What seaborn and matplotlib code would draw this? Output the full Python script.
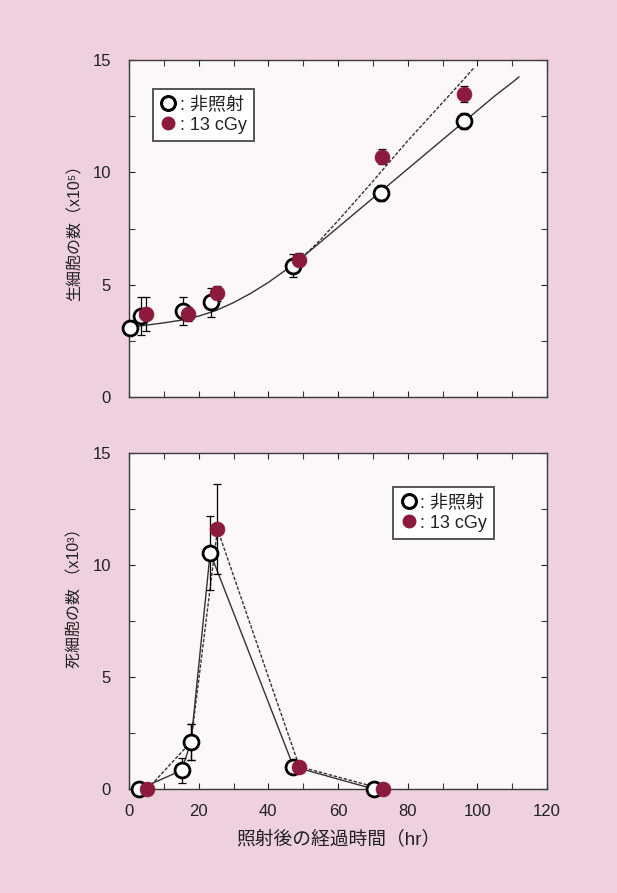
import matplotlib
matplotlib.use("Agg")
import matplotlib.pyplot as plt
from matplotlib.lines import Line2D
from matplotlib.ticker import MultipleLocator
import seaborn as sns

# ---- live cells (x10^5) ----
live_ctrl_hr = [0.3, 3.5, 15.6, 23.4, 47.2, 72.3, 96.3]
live_ctrl = [3.05, 3.6, 3.84, 4.21, 5.85, 9.08, 12.28]
live_ctrl_err = [0.0, 0.85, 0.62, 0.65, 0.5, 0.35, 0.35]

live_irr_hr = [5.0, 17.0, 25.2, 48.9, 72.5, 96.3]
live_irr = [3.7, 3.69, 4.61, 6.12, 10.7, 13.5]
live_irr_err = [0.75, 0.3, 0.35, 0.3, 0.35, 0.35]

# growth curves
fit_ctrl_hr = [1, 5, 10, 15, 20, 25, 30, 35, 40, 45, 50, 55, 60, 65, 70,
               75, 80, 85, 90, 95, 100, 105, 110, 112]
fit_ctrl = [3.12, 3.2, 3.3, 3.42, 3.6, 3.85, 4.2, 4.62, 5.1, 5.65, 6.25,
            6.9, 7.55, 8.2, 8.85, 9.5, 10.15, 10.8, 11.45, 12.1, 12.75,
            13.4, 14.0, 14.25]
fit_irr_hr = [45, 50, 55, 60, 65, 70, 75, 80, 85, 90, 95, 99]
fit_irr = [5.65, 6.25, 7.0, 7.85, 8.72, 9.6, 10.5, 11.4, 12.25, 13.1,
           13.95, 14.65]

# ---- dead cells (x10^3) ----
dead_ctrl_hr = [3.0, 15.1, 17.8, 23.3, 47.2, 70.2]
dead_ctrl = [0.0, 0.83, 2.1, 10.55, 1.0, 0.0]
dead_ctrl_err = [0.0, 0.55, 0.8, 1.65, 0.1, 0.0]

dead_irr_hr = [5.3, 17.8, 25.4, 48.9, 72.8]
dead_irr = [0.0, 2.1, 11.6, 1.0, 0.0]
dead_irr_err = [0.0, 0.8, 2.0, 0.1, 0.0]

labels = [": 非照射", ": 13 cGy"]
x_ticks = [0, 20, 40, 60, 80, 100, 120]
y_ticks = [0, 5, 10, 15]

PINK = "#eed0df"
PANEL = "#fcf8fa"
RED = "#8c1a3d"
LINE = "#333333"
EDGE = "#3a3a3a"

sns.set_theme(style="ticks")
plt.rcParams["font.family"] = ["Liberation Sans", "Noto Sans CJK JP", "DejaVu Sans"]

fig = plt.figure(figsize=(6.17, 8.93), dpi=100, facecolor=PINK)
W, H = 617, 893
ax1 = fig.add_axes([129 / W, 1 - 397 / H, 418 / W, 337 / H])
ax2 = fig.add_axes([129 / W, 1 - 789 / H, 418 / W, 336 / H])

MS = 115  # marker area (pt^2)


def style_axes(ax, show_x):
    ax.set_facecolor(PANEL)
    ax.set_xlim(0, 120)
    ax.set_ylim(0, 15)
    ax.set_xticks(x_ticks)
    ax.set_yticks(y_ticks)
    ax.xaxis.set_minor_locator(MultipleLocator(10))
    ax.yaxis.set_minor_locator(MultipleLocator(2.5))
    ax.tick_params(which="both", direction="in", top=True, right=True,
                   length=4, width=0.8, color=EDGE)
    ax.tick_params(axis="y", labelsize=12, pad=13, colors="#222222")
    ax.tick_params(axis="x", labelsize=12, pad=11, colors="#222222",
                   labelbottom=show_x)
    for s in ax.spines.values():
        s.set_color(EDGE)
        s.set_linewidth(1.0)
        s.set_visible(True)


def draw_legend(ax, anchor):
    handles = [
        Line2D([], [], ls="none", marker="o", ms=10, mfc="white",
               mec="black", mew=2.2),
        Line2D([], [], ls="none", marker="o", ms=9, mfc=RED, mec=RED),
    ]
    leg = ax.legend(handles, labels, loc="upper left", bbox_to_anchor=anchor,
                    frameon=True, fancybox=False, framealpha=1,
                    edgecolor="#555555", facecolor="white", fontsize=13,
                    handlelength=0.9, handletextpad=0.2, borderpad=0.4,
                    labelspacing=0.2, borderaxespad=0)
    leg.get_frame().set_linewidth(1.4)
    for t in leg.get_texts():
        t.set_color("#222222")


# ---------- top panel: live cells ----------
style_axes(ax1, show_x=False)
sns.lineplot(x=fit_ctrl_hr, y=fit_ctrl, ax=ax1, color=LINE, lw=1.0,
             sort=False, estimator=None, errorbar=None, zorder=2)
sns.lineplot(x=fit_irr_hr, y=fit_irr, ax=ax1, color=LINE, lw=1.0,
             linestyle=(0, (2.5, 1.2)), sort=False, estimator=None,
             errorbar=None, zorder=2)
ax1.errorbar(live_ctrl_hr, live_ctrl, yerr=live_ctrl_err, fmt="none",
             ecolor="black", elinewidth=0.9, capsize=3, capthick=0.9,
             zorder=2.5, clip_on=False)
ax1.errorbar(live_irr_hr, live_irr, yerr=live_irr_err, fmt="none",
             ecolor="black", elinewidth=0.9, capsize=3, capthick=0.9,
             zorder=2.5, clip_on=False)
sns.scatterplot(x=live_ctrl_hr, y=live_ctrl, ax=ax1, s=MS, color="white",
                edgecolor="black", linewidth=2.0, zorder=3, clip_on=False)
sns.scatterplot(x=live_irr_hr, y=live_irr, ax=ax1, s=MS, color=RED,
                edgecolor=RED, linewidth=0.5, zorder=4, clip_on=False)
ax1.set_xlabel("")
ax1.set_ylabel("生細胞の数（x10⁵）", fontsize=11.5, color="#222222")
ax1.yaxis.set_label_coords(-0.112, 0.5)
draw_legend(ax1, (0.057, 0.914))

# ---------- bottom panel: dead cells ----------
style_axes(ax2, show_x=True)
sns.lineplot(x=dead_ctrl_hr, y=dead_ctrl, ax=ax2, color=LINE, lw=1.0,
             sort=False, estimator=None, errorbar=None, zorder=2)
sns.lineplot(x=dead_irr_hr, y=dead_irr, ax=ax2, color=LINE, lw=1.0,
             linestyle=(0, (2.5, 1.2)), sort=False, estimator=None,
             errorbar=None, zorder=2)
ax2.errorbar(dead_ctrl_hr, dead_ctrl, yerr=dead_ctrl_err, fmt="none",
             ecolor="black", elinewidth=0.9, capsize=3, capthick=0.9,
             zorder=2.5, clip_on=False)
ax2.errorbar(dead_irr_hr, dead_irr, yerr=dead_irr_err, fmt="none",
             ecolor="black", elinewidth=0.9, capsize=3, capthick=0.9,
             zorder=2.5, clip_on=False)
# irradiated markers that sit exactly under a control marker go beneath it
under = [i for i, x in enumerate(dead_irr_hr) if x in dead_ctrl_hr]
over = [i for i in range(len(dead_irr_hr)) if i not in under]
sns.scatterplot(x=[dead_irr_hr[i] for i in under], y=[dead_irr[i] for i in under],
                ax=ax2, s=MS, color=RED, edgecolor=RED, linewidth=0.5,
                zorder=2.8, clip_on=False)
sns.scatterplot(x=dead_ctrl_hr, y=dead_ctrl, ax=ax2, s=MS, color="white",
                edgecolor="black", linewidth=2.0, zorder=3, clip_on=False)
sns.scatterplot(x=[dead_irr_hr[i] for i in over], y=[dead_irr[i] for i in over],
                ax=ax2, s=MS, color=RED, edgecolor=RED, linewidth=0.5,
                zorder=4, clip_on=False)
ax2.set_ylabel("死細胞の数 （x10³）", fontsize=11.5, color="#222222")
ax2.yaxis.set_label_coords(-0.112, 0.58)
ax2.set_xlabel("照射後の経過時間（hr）", fontsize=13.5, color="#222222")
ax2.xaxis.set_label_coords(0.5, -0.122)
draw_legend(ax2, (0.632, 0.899))

fig.savefig("out.png", dpi=100, facecolor=PINK)
